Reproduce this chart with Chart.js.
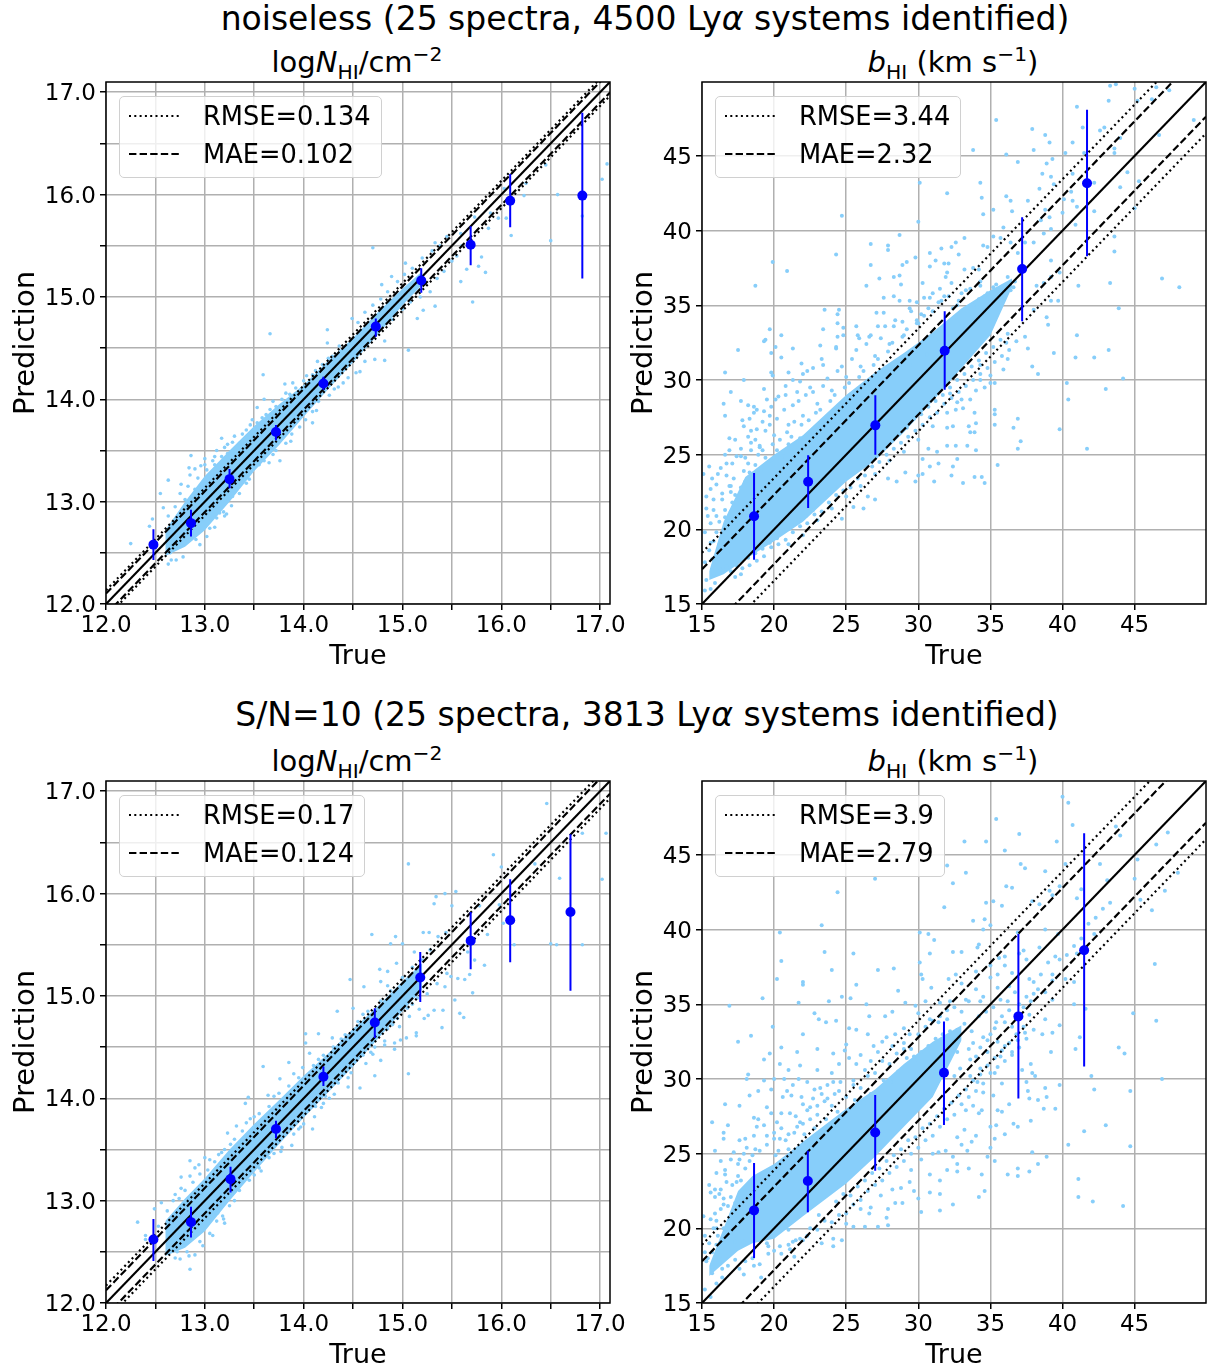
<!DOCTYPE html>
<html>
<head>
<meta charset="utf-8">
<script src="https://cdn.jsdelivr.net/npm/chart.js@4"></script>
<style>
body { margin: 0; background: #fff; font-family: "DejaVu Sans", sans-serif; color: #000; }
#page { position: relative; width: 1208px; height: 1369px; overflow: hidden; }
canvas { position: absolute; }
.title { position: absolute; transform: translate(-50%, -50%); white-space: nowrap; }
.title sub, .title sup { font-size: 70%; line-height: 0; }
.legend { position: absolute; background: rgba(255,255,255,.8); border: 1.5px solid #d0d0d0; border-radius: 5px; padding: 0 10px 0 9px; height: 80px; font-size: 25.7px; }
.legend div { display: flex; align-items: center; height: 38px; }
.legend svg { width: 52px; height: 4px; margin-right: 22px; }
</style>
</head>
<body>
<div id="page"></div>
<script>
// mean points and error bars
var meanTrueA = [12.48, 12.86, 13.25, 13.72, 14.2, 14.73, 15.19, 15.69, 16.09, 16.82];
var meanPredA = [12.58, 12.79, 13.22, 13.68, 14.155, 14.71, 15.16, 15.51, 15.94, 15.99];
var errHighA = [12.73, 12.92, 13.32, 13.75, 14.22, 14.79, 15.28, 15.69, 16.2, 16.8];
var errLowA = [12.43, 12.66, 13.13, 13.6, 14.09, 14.61, 15.04, 15.31, 15.68, 15.18];

var meanTrueB = [18.61, 22.36, 27.02, 31.83, 37.2, 41.7];
var meanPredB = [20.87, 23.19, 26.96, 31.96, 37.43, 43.17];
var errHighB = [23.77, 24.96, 28.97, 34.6, 40.9, 48.1];
var errLowB = [17.97, 21.43, 25, 29.35, 33.93, 38.28];

var meanTrueC = [12.48, 12.86, 13.26, 13.72, 14.2, 14.72, 15.18, 15.69, 16.09, 16.7];
var meanPredC = [12.62, 12.79, 13.21, 13.7, 14.21, 14.74, 15.18, 15.54, 15.74, 15.82];
var errHighC = [12.82, 12.94, 13.33, 13.78, 14.31, 14.88, 15.43, 15.82, 16.14, 16.58];
var errLowC = [12.41, 12.64, 13.08, 13.61, 14.12, 14.59, 14.94, 15.26, 15.33, 15.05];

var meanTrueD = [18.61, 22.34, 27.01, 31.78, 36.94, 41.5];
var meanPredD = [21.2, 23.17, 26.41, 30.42, 34.19, 38.62];
var errHighD = [24.37, 25.2, 28.93, 33.84, 39.7, 46.45];
var errLowD = [18.01, 21.07, 23.86, 26.92, 28.7, 30.83];

// legend values
var rmse = [0.134, 3.44, 0.17, 3.9];
var mae = [0.102, 2.32, 0.124, 2.79];

// dense part of each cloud, read as an envelope
var coreTrueA = [12.6, 12.8, 13, 13.25, 13.5, 13.75, 14, 14.25, 14.5, 14.75, 15, 15.2];
var coreHighA = [12.72, 13, 13.25, 13.5, 13.74, 13.95, 14.14, 14.38, 14.6, 14.85, 15.08, 15.25];
var coreLowA = [12.47, 12.56, 12.72, 13, 13.3, 13.55, 13.83, 14.1, 14.36, 14.63, 14.92, 15.12];
var coreHighC = [12.8, 13.02, 13.22, 13.5, 13.75, 13.98, 14.22, 14.44, 14.68, 14.9, 15.14, 15.32];
var coreLowC = [12.46, 12.54, 12.7, 13, 13.28, 13.55, 13.81, 14.06, 14.31, 14.58, 14.85, 15.06];
var coreTrueB = [15.5, 16.5, 18, 20, 22, 25, 27, 29, 31, 33, 35, 36.5];
var coreHighB = [17.2, 20.5, 23.5, 25, 26.3, 29, 30.5, 31.8, 33.2, 34.8, 36, 36.8];
var coreLowB = [16.6, 17, 18, 19.2, 20.5, 23.2, 24.6, 26.5, 28.6, 30.8, 33, 36.2];
var coreTrueD = [15.5, 17.5, 18.5, 20, 22, 25, 27, 29, 31, 33];
var coreHighD = [17.5, 22.5, 23.5, 24.3, 25.8, 28, 29.3, 31, 32.5, 33.6];
var coreLowD = [16.8, 18.5, 19, 19.3, 20.8, 23, 24.8, 26.8, 28.8, 32.6];

// scattered points
var pointsA = [[12.25,12.59],[12.44,12.76],[12.47,12.83],[12.55,13.08],[12.63,13.21],[12.76,13.17],[12.58,12.94],[12.63,12.39],[12.71,12.43],[12.65,12.5],[12.86,13.45],[12.84,13.33],[12.85,13.26],[13,13.42],[12.96,13.35],[13.17,13.62],[13.3,13.64],[13.23,13.56],[13.1,13.44],[13.59,14.24],[13.6,14],[13.53,13.92],[13.48,13.8],[13.42,13.7],[13.69,13.98],[13.81,14.15],[13.89,14.16],[14.03,14.23],[14.14,14.37],[14.24,14.55],[13.19,12.9],[13.27,12.96],[13.12,12.84],[13.2,12.86],[13.76,13.4],[13.65,13.38],[13.87,13.59],[14.09,13.77],[14.13,13.89],[14.31,14.1],[14.45,14.21],[14.57,14.27],[14.62,14.37],[14.72,14.39],[14.82,14.38],[15.06,14.48],[14.82,14.57],
[15.71,14.95],[15.84,15.24],[15.8,15.39],[15.77,15.3],[15.65,15.27],[15.59,15.15],[15.33,14.91],[15.21,14.87],[15.15,14.79],[14.7,15.48],[14.24,14.68],[13.66,14.64],[15.03,15.33],[14.89,15.2],[14.79,15.12],[14.49,14.79],[15.33,15.53],[15.45,15.59],[15.59,15.62],[15.73,15.78],[15.89,15.82],[15.97,15.77],[16.05,15.77],[16.03,16.06],[16.23,15.99],[16.25,16.11],[16.45,16.29],[16.57,16],[16.5,15.55],[16.82,15.79],[17.02,16.15],[17.07,16.3],[16.1,15.6],[15.87,15.67],
[12.63,12.86],[12.7,12.95],[12.75,13.08],[12.83,13.15],[12.93,13.23],[13.02,13.31],[13.1,13.36],[13.17,13.44],[13.23,13.47],[13.35,13.57],[13.42,13.62],[13.53,13.77],[13.62,13.85],[13.72,13.93],[13.82,14.06],[13.92,14.11],[14.09,14.24],[14.19,14.34],[14.29,14.42],[14.36,14.52],
[12.66,12.43],[12.78,12.46],[12.91,12.63],[13.05,12.74],[13.15,12.89],[13.28,13.05],[13.42,13.18],[13.55,13.36],[13.69,13.46],[13.82,13.57],[13.96,13.73],[14.09,13.88],[14.26,14.04],[14.4,14.16],[14.53,14.26],
[14.55,14.75],[14.62,14.85],[14.7,14.92],[14.78,14.98],[14.85,15.05],[14.95,15.15],[15.02,15.22],[15.1,15.28],[15.2,15.38],[15.3,15.45],[15.38,15.5],[14.9,14.78],[15,14.88],[15.08,14.95],[15.18,15],[15.28,15.05],[15.35,15.18],[15.42,15.25],[15.5,15.35],[15.55,15.4],[15.6,15.5],
[12.9,13.32],[13,13.36],[13.08,13.4],[13.12,13.5],[13.2,13.53],[13.28,13.58],[13.38,13.66],[13.46,13.75],[13.58,13.82],[13.66,13.9],[13.78,14],[13.86,14.05],[14,14.18],[14.12,14.28],[14.25,14.4],[12.7,12.82],[12.8,13.02],[12.9,13.12],[12.95,12.58],[13.02,12.66],[13.1,12.75],[13.22,12.88],[13.35,13.08],[13.45,13.22],[13.6,13.4],[13.72,13.5],[13.88,13.66],[14.02,13.8],[14.15,13.98],[14.35,14.12]];

var pointsC = [[12.32,12.79],[12.49,12.92],[12.4,12.66],[12.4,12.62],[12.53,12.75],[12.85,12.33],[12.84,12.46],[12.9,12.47],[12.75,12.43],[12.7,12.44],[12.63,12.49],[12.56,12.98],[12.7,13.06],[12.76,13.23],[12.76,13.12],[12.85,13.39],[12.94,13.35],[13,13.42],[12.85,13.24],[13.17,13.47],[13.23,13.66],[13.32,13.73],[13.41,13.95],[13.44,14.01],[13.59,14.31],[13.85,14.35],[13.76,14.19],[13.64,14.03],[13.99,14.3],[14.06,14.44],[14.02,14.54],[13.2,12.78],[13.19,12.82],[13.13,12.88],[13.57,13.29],[13.77,13.48],[13.88,13.54],[13.97,13.72],[14.09,13.7],[14.11,13.82],[14.18,13.91],[14.26,14],[14.31,14.04],[14.45,14.11],[14.57,14.1],[14.72,14.22],[15.06,14.24],[14.78,14.37],[14.63,14.34],[14.7,14.43],[14.82,14.56],[14.92,14.48],[14.98,14.57],
[16.46,16.88],[15.06,16.29],[15.92,16.38],[16,16.26],[16.34,16.29],[16.59,16.15],[16.82,16.59],[17.06,16.59],[17.02,16.14],[16.82,15.5],[16.56,15.5],[16.5,15.51],[16.13,15.5],[16.02,15.71],[15.98,15.89],[15.78,15.88],[15.86,15.6],[15.83,15.3],[15.71,15.03],[15.53,14.96],[15.58,14.83],[15.62,14.79],[15.4,14.69],[15.41,14.86],[15.32,14.86],[15.22,14.78],[15.26,14.81],[15.14,14.64],[15.34,15.97],[15.43,16],[15.54,16.02],[15.32,15.9],[15.5,15.88],[14.69,15.6],[14.93,15.58],[14.88,15.51],[15,15.51],[15.21,15.62],[15.27,15.62],[15.36,15.58],[15.44,15.62],[15.12,15.43],[14.94,15.32],[14.77,15.26],[14.47,15.16],[14.61,15.09],[14.85,15.24],[14.78,15.14],[14.34,14.85],[14.5,14.88],[14.15,14.63],[14.29,14.59],[14.02,14.63],[15.43,15.09],[15.49,15.19],[15.63,15.16],[15.56,15.17],[15.68,15.21],[15.73,15.35],[15.66,15.43],[15.17,14.87],[15.07,14.8],[14.97,14.7],[15.04,14.59],[15.14,14.61],[14.92,14.54],[14.82,14.52],
[12.62,12.9],[12.68,13],[12.74,13.02],[12.8,13.1],[12.88,13.18],[12.95,13.26],[13.03,13.3],[13.1,13.38],[13.2,13.5],[13.3,13.6],[13.38,13.68],[13.46,13.8],[13.55,13.85],[13.65,13.92],[13.75,14.05],[13.85,14.12],[13.95,14.2],[14.1,14.32],[14.2,14.42],[14.3,14.5],[14.42,14.62],[14.55,14.75],[14.65,14.85],[14.78,14.95],[14.88,15.05],[15,15.18],[15.1,15.28],[15.2,15.35],[15.28,15.45],
[12.72,12.5],[12.82,12.5],[12.95,12.6],[13.05,12.68],[13.12,12.8],[13.25,12.95],[13.35,13.1],[13.45,13.2],[13.55,13.32],[13.65,13.42],[13.78,13.52],[13.9,13.65],[14,13.75],[14.12,13.92],[14.22,14.02],[14.35,14.15],[14.48,14.25],[14.6,14.42],[14.72,14.5],[14.85,14.68],[14.95,14.78],[15.05,14.88],[15.15,14.98],[15.25,15.02],[15.35,15.12],[15.45,15.22],
[12.9,13.32],[13.05,13.4],[13.14,13.45],[13.26,13.55],[13.42,13.76],[13.5,13.82],[13.7,14.02],[13.9,14.24],[14.15,14.38],[14.38,14.58],[14.6,14.82],[14.85,15.1],[12.98,12.56],[13.08,12.66],[13.18,12.85],[13.3,13],[13.5,13.25],[13.7,13.46],[13.95,13.7],[14.2,13.95],[14.45,14.2],[14.68,14.45],[14.9,14.72],[15.1,14.92]];

var pointsB = [[43.3,49.7],[43.7,49.8],[45,49.5],[43.2,48.7],[46.5,49.6],[47.4,49.4],[45.2,48.7],[46.2,48.8],[49.1,47.4],[46.7,46.4],[41,48.3],[41.4,46.9],[42.6,46.7],[42.9,46.9],[44,46.2],[40.7,45.9],[35.4,47.4],[37.9,46.8],[38.8,46.4],[39.1,45.9],[33.8,45.4],[36.1,45.1],[38,45.4],[40.2,45.2],[41.5,45.2],[43.6,45.5],[43.6,45.2],[36.9,44.6],[38.9,44.5],[39.3,44.8],[38.6,43.8],[39.2,43.6],[40.7,43.8],[44.5,43.9],[45.3,43.3],[44,42.9],[41.8,43],[42.2,43.2],[30.1,43.2],[34.3,43.2],[32,42.5],[34.4,42.2],[36.1,42.3],[36.4,42],[37.6,42],[38.4,42.8],[39.4,43.1],[40.6,42.6],[40.1,42.1],[40.7,42],[35.2,41.4],[36.5,41.3],[38.8,41.4],[40,41.2],[41,41.6],[42.2,41.3],[45,41.5],[24.7,41],[30,40.6],[34.5,41.1],[35.9,40.2],[38.5,40.7],[39.1,40.9],[39.2,40.1],[40.9,40.4],[43.6,39.6],[43.6,38.6],[28.7,39.7],[26.7,39.1],[27.9,39],[27.9,38.7],[24.3,38.4],[26.7,37.7],[19.9,37.9],[20.9,37.3],[18.7,36.3],[30.8,38.5],[31.6,38.8],[32.3,38.9],[32.6,39.2],[32.8,38.4],[33.2,39.5],[34.5,39],[34.8,38.9],[35.2,39.6],[35.7,39.5],[36.4,39.2],[36.9,38.5],[37.4,39.2],[38,39.2],[38.7,39.8],[39.2,38],[39.8,37.2],[41.1,36.3],[43.3,36.5],[46.9,36.8],[48.1,36.2],[43.9,34.8],[41,33],[39.7,35.3],[39.2,35.3],[38.9,34.2],[39,33.7],[38,34.7],[37.4,32.9],[38.2,36.3],[38.7,36.5],[39.2,36.9],[31.2,38],[31.8,37.8],[32.1,37.8],[29.2,37.9],[28.9,37.7],[29.8,38.2],[30.8,37.6],[30.3,36.5],[28.3,36.9],[28.7,37],[28.8,36.4],[27.3,36.8],[26.4,36.3],[32,37.2],[31.9,36.9],[33.2,37.4],[33.8,37.5],[34.2,37.4],[31,35.8],[31.5,36.1],[32.1,35.6],[33,35.8],[33.6,36.1],[34.3,36.3],[34.8,35.8],[35.2,36.2],[35.6,35.8],[35,35.4],[34.2,35.4],[34.1,34.9],[33.4,34.7],[32.8,35.3],[31.6,35.3],[30.8,35.5],[29.9,35.2],[29.4,35.3],[28.7,35.3],[28.3,35.6],[27.6,35.5],[23.5,34.7],[24.5,34.7],[24.4,34.4],[19.7,33.4],[20.5,33],[19.4,32.7],[23.4,33.4],[24.4,33.8],[24.8,33.5],[25.7,33.6],[26.6,32.9],[27.2,33.6],[27.1,34.5],[27.6,34.5],[28.3,33.6],[28.9,33.9],[29.5,34.6],[29.9,34],[30.4,34.3],[24.4,32.9],[25.9,32.8],
[17.5,32],[19.3,32.6],[19.8,31.8],[20.1,32.2],[20.5,31.5],[21.3,32.1],[23.2,32.3],[24.3,32.1],[16.6,30.5],[17.9,30],[17,29.2],[19.8,30.5],[19.9,30.3],[21,30.5],[21.9,31.1],[22.7,30.8],[23.4,31],[22,30.4],[16.5,28.4],[16.6,27.6],[17.7,28.6],[18.2,28.3],[18.6,28.2],[18.6,27.8],[17.8,27.3],[16.9,26.1],[16.9,25.3],[19.2,27.2],[19.7,27.6],[20.1,28.7],[19.5,28.7],[20.8,29],[21.6,29.2],[22.5,29.5],[18.4,26.6],[18.8,26.7],[18.2,26.2],[18.4,25.3],[19,25.5],[17.7,24.9],[17.1,24.4],[16.6,25],[15.5,24.2],[15.1,23.7],[16.1,23.7],[15.7,23.4],[16.7,23.6],[17,22.9],[16.4,22.4],[15.6,22.7],[15.8,22],[15.3,21.4],[15.2,19.8],[15.6,19.1],[15.2,17.8],[15.7,18],[16.1,18.4],[15.8,17],[15.6,16],[15.2,15.9],[17.7,17],[16.7,17.5],[17.1,17.8],[16.4,19.3],[15.6,20.4],[16,20.9],[16.6,21.3],[17.1,21.8],
[26.2,21.4],[27,22],[26.5,22.2],[25.5,21.5],[24.7,20.7],[28.5,23.2],[27.9,23.4],[29.1,23.8],[29.8,23.2],[30,23.6],[31.1,23.2],[32.3,23.6],[33.1,23.1],[33.9,23.5],[34.4,23.5],[34.6,23.1],[35.5,24.3],[34,25.3],[33.4,25.6],[32.7,24.7],[32.4,24.2],[31.4,24.4],[30.8,24.2],[30.3,23.7],[30.3,24.7],[41.7,25.4],[36.9,25.4],[37.1,25.9],[36.6,26.8],[36.9,27.4],[39.8,26.7],[40.4,28.7],[40.3,29.8],[43,29.4],[44.2,30.1],[37.9,30.9],[38.3,30.4],[37.6,32.1],[39.4,31.8],[40.9,31.5],[42.2,31.5],[43.2,32],[35.9,30.7],[36.2,31.4],[35.3,27.7],[35.3,27],[35.3,28],[34,27.1],[33.9,27.8],[33.1,28.1],[33.6,28.7],[32.6,28],[33.5,26.9],[33.6,26.5],[33.9,26.5],[32.6,25.6],[32,25.6],[31.3,25.2],[30.7,25.4],[32.4,26.9],[32,26.8],[35,29.8],[35.3,29.8],[34.3,30],[34.6,29.5],[32.7,28.5],[32.2,29.1],[36.1,32.5],[34.3,31],
[15.8,19.2],[16.2,20.5],[16.6,20.8],[17,21.2],[17.3,22.3],[17.7,22.8],[18,23.2],[18.3,23.8],[18.7,24.3],[19.1,24],[19.4,24.8],[19.8,24.6],[20.2,25.3],[20.6,24.9],[21,25.7],[21.4,25.4],[21.8,26.1],[22.2,25.8],[22.6,26.6],[23,26.3],[23.4,27.2],[23.8,26.9],[24.2,27.9],[24.6,28.2],[25,28.6],[25.4,28.3],[25.8,29.3],[26.2,28.8],[26.6,29.8],[27,30],[27.4,29.7],[27.8,30.6],[28.2,30.3],[28.6,31.1],[29,31.5],[29.4,31],[29.8,31.9],[30.2,32.2],[30.6,31.7],[31,33],[31.4,32.5],[31.8,33.5],[32.2,33],[32.6,34.2],[33,33.6],[33.4,34.6],[33.8,35],[34.2,34.3],[34.6,35.6],[35,35.2],[35.4,36.4],[35.8,35.7],[36.2,36.9],[36.6,36.2],[37,37.5],
[17,17.2],[17.4,17.6],[17.8,18],[18.2,18.1],[18.7,18.4],[19.2,18.7],[19.7,19.1],[20.2,19.4],[20.7,19.9],[21.2,20.3],[21.7,20.6],[22.2,20.9],[22.7,21.3],[23.2,21.9],[23.7,22.3],[24.2,22.8],[24.7,23.2],[25.2,23.6],[25.7,23.9],[26.2,24.4],[26.7,24.9],[27.2,25.1],[27.7,25.6],[28.2,26.1],[28.7,26.5],[29.2,26.8],[29.7,27.4],[30.2,27.7],[30.7,28.2],[31.2,28.6],[31.7,29],[32.2,29.5],[32.7,30],[33.2,30.4],[33.7,30.9],[34.2,31.3],[34.7,31.8],[35.2,32.2],[35.7,32.7],[36.2,33.1],
[17,22.5],[18,24.8],[19,25.6],[20,26.3],[21,27],[22,27.6],[23,28.4],[24,29.3],[25,30.2],[26,30.9],[27,31.6],[28,32.4],[29,33],[30,33.8],[31,34.6],[21,19],[22,19.6],[23,20.6],[24,21.4],[25,22.2],[26,22.9],[27,23.7],[28,24.6],[29,25.2],[30,26],[31,26.9],[32,27.8],[33,28.7],[34,29.3],[35,30.3],
[15.3,16.6],[15.5,18.6],[15.4,20.9],[15.3,22.2],[15.9,16.4],[16,19.8],[15.8,21.3],[16,23],[16.3,17.3],[16.2,19],[16.4,22],[16.3,24.1],[16.8,18.4],[16.9,22.9],[16.7,24.4],[17.3,16.8],[17.2,23.4],[17.4,24.9],[17.3,26],[17.8,17.4],[17.9,23.9],[17.7,25.4],[17.9,26.9],[18.3,17.6],[18.2,24.4],[18.4,25.8],[18.3,27.4],[18.8,17.9],[18.9,25],[18.7,26],[18.8,28],[19.3,18.2],[19.2,25.3],[19.4,26.6],[19.3,27.9],[19.3,29.4],[19.8,18.8],[19.9,25.7],[19.7,27],[19.8,28.2],[20.3,19],[20.4,26],[20.2,27.4],[20.3,28.9],[20.8,19.3],[20.9,26.5],[20.7,28],[20.8,29.6],[21.3,19.8],[21.2,26.2],[21.4,27.2],[21.3,28.3],[21.3,30],[21.8,20.2],[21.9,27],[21.7,28.6],[21.8,29.9],[22.3,20.4],[22.4,27.3],[22.2,29],[22.3,30.6],[22.8,21],[22.9,27.8],[22.7,29.2],[23.3,21.2],[23.2,28],[23.4,29.6],[23.3,31.4],[23.8,21.8],[23.9,28.6],[23.7,30.1],[24.3,22.3],[24.2,29],[24.4,30.6],[24.3,32.2],[24.8,22.6],[24.9,29.5],[24.7,30.9],[24.8,33],[25.3,22.8],[25.2,29.8],[25.4,31.4],[25.8,23.4],[25.9,30.2],[25.7,32],[25.8,33],[26.3,23.6],[26.2,30.6],[26.4,32.4],[26.8,24.2],[26.9,31],[26.7,33],[27.3,24.5],[27.2,31.4],[27.4,32.8],[27.8,25],[27.9,31.9],[27.7,33.6],[28.3,25.4],[28.2,32.5],[28.4,34],[28.8,25.8],[28.9,32.9],[29.3,26.2],[29.2,33.4],[29.4,34.8],[29.8,26.6],[29.9,33.8],[30.3,27],[30.2,34.4],[30.4,35.5],[30.8,27.5],[30.7,34.8],[31.3,27.8],[31.4,35.2],[31.8,28.4],[31.8,35.6],[32.3,28.8],[32.4,34.8],[32.3,36.5],[32.8,29.2],[32.7,35],[33.3,29.6],[33.3,36],[33.8,30],[33.7,34.2],[34.3,30.4],[34.3,36.6],[34.8,30.8],[34.7,34.9],[35.3,31.2],[35.4,35.4],[35.8,31.6],[36.3,32],[36.4,36],[36.8,32.6],[36.7,36.6]];

var pointsD = [[40,48.9],[40.4,48.5],[35.4,47.4],[40.7,47],[43.7,46.9],[44,46.3],[47.3,46.5],[37,46.4],[33.2,45.9],[34.7,45.9],[39.6,45.9],[36,45.3],[46.5,45.7],[45.2,44.7],[40.2,44.4],[37.1,44.4],[37.4,44.1],[38.8,43.9],[42.6,44.4],[32,44.3],[33.3,43.8],[48,43.8],[45,43.4],[43.1,43.3],[27,43.4],[24.4,42.5],[32.4,43.1],[36.1,42.9],[36.5,42.8],[39.1,42.6],[39.8,42.9],[47.1,42.6],[41.3,42.7],[34.7,41.8],[35.2,41.9],[35.8,41.6],[31.8,41.5],[37.9,41.9],[38.4,41.7],[39.3,42.3],[41,42.1],[45.4,42],[46.2,41.3],[33.8,40.6],[34.6,40.7],[35,40.3],[34.5,40],[23.3,40.3],[20.4,39.8],[20.5,37.9],[20.2,36.7],[22,36.5],[22,36.3],[19.2,35.4],[16.9,34.9],[23.5,38.5],[25.5,38.4],[24,37.3],[27.2,37.3],[28.3,37.4],[30.1,39.8],[30.7,39.7],[31.1,39.3],[32.4,38.5],[33,38.5],[30.8,38.4],[30.1,37.8],[30.2,37],[30.3,36.7],[32.1,36.7],[32.6,37],[34.1,38.8],[34.2,39],[35.6,38.1],[36.9,39.8],[37.3,38.6],[38.4,38.8],[38.8,40],[39.7,39.7],[41,38.4],[42.2,39.7],[46.4,37.7],[44.9,34.4],[46.5,33.9],[25.7,36.3],[24.7,35.5],[25.3,35.4],[21.7,35.1],[26.4,35],[23.8,35.2],[22.8,34.4],[23.1,34],[22,33],[19.9,33.5],[18.4,32.9],[23.6,33.8],[24.3,33.9],[25.2,33.4],[25.7,33.3],[26.6,34.2],[26.5,33],[27.7,34.2],[28.2,34.5],[28.6,35.9],[29.1,35.1],[29.8,34.9],[30.5,35.2],[30.9,36.1],[31.5,35.1],[32,34.6],[33.3,35.3],[34.3,35.2],[35.5,36.1],[36.3,36.2],[35.4,33.8],[37.7,36.7],[38,35.7],[39.3,36.6],[40.2,36.7],[40.8,36.5],[41.6,34.7],[39.3,35.3],[38.8,34],[37.7,34.3],[41.2,32.8],[39.3,33.1],[37.4,33.1],
[17.5,32.5],[19.7,31.7],[19.3,31.3],[20.5,32.1],[21.6,31.8],[18.2,30.3],[18.1,30],[18.9,29.2],[16.6,28.3],[17.6,28.2],[15.7,27.1],[16.8,26.9],[16.5,26.4],[16.5,26],[15.9,25.2],[17.6,25.9],[18.6,27.4],[18.8,26.8],[18.6,26.2],[18,26],[19.5,28.1],[19.8,27.7],[19.8,29.3],[20.4,31],[21,30.6],[21.8,30.9],[23,32],[23,30.6],[22.3,29.8],[21.7,30],[20.9,29.2],[21.2,28.9],[20.6,28.8],[20.5,27.7],[21.1,27.7],[20.2,27.1],[20,26.4],[19.5,26.2],[20.4,26],[21,25.3],[21.8,27.1],[22.5,27.3],[23.3,29],[24.1,29.8],[24.9,31.9],[25,32.3],[24.1,31.7],[25.7,31],[26.3,30.6],[26.9,32.2],[27.5,32.5],[28.2,32.2],[29,32],[29.8,31.3],[25.5,29.9],[24.6,29.8],[23.7,29.6],[22.8,29.3],[21.9,28.8],[23.7,28.7],[23,28.2],[22.3,27.9],[24.2,29],[21.6,26.8],[18.7,25.3],[17.9,25],[17.2,25.1],[18.3,24.5],[16.3,24.5],[17.5,24.3],[16.6,23.6],[16,23.7],[15.5,22.9],[15.9,22.6],[15.6,22.4],[16.3,22.6],[16.7,23.1],[17.1,22.9],[17.4,23.1],[17.7,23.2],[16.5,22],[15.9,22.1],[15.1,20.8],[15.6,20.6],[16.3,21.3],[16.8,21.5],[17.3,21.7],[17.7,22],[18.2,22.4],[15.8,20],[16.1,19.5],[15.2,19.5],[16.5,19.1],[16.8,19.5],[17.3,19.1],[17.9,19.1],[15.7,18.4],[15.2,18.4],[16.2,18.1],[17.3,17.9],[15.7,17.4],[15.7,17],[16.4,17.3],[17.6,17.3],[17.9,16.9],[18.6,17.5],[16.4,16.7],[16,16.3],[15.2,15.9],[15.6,15.4],[19.1,16.7],[19.6,18.3],[19.6,18.8],[20.4,18.8],[21.1,18.6],[21.3,19.1],[21.4,18.1],[21.8,19.3],[22.3,19.5],[24.1,19.3],[24.7,19.2],[24.1,18.8],[23.3,19],[25,20.3],[25.5,20.1],[26.3,20.1],[27.2,20.1],[27.9,20.2],[27.8,20.7],[26.6,21],[26,21.3],[26.7,21.4],[28.4,21.7],[28.9,21.7],[27.9,21.3],[27.4,22.2],[28.2,22.6],[28.8,22.7],[29.4,23.1],[29.7,22.5],[30,22],[30.2,21.1],[31.5,21.2],[32.4,21.6],[30.8,22.4],[31.5,22.3],[34.2,22.1],[34.6,22.5],[32.7,23.8],[31.5,23.2],[30.8,23.6],[32,23.9],[32.4,24.8],[33.5,24],[32.7,24.3],[34.4,23.6],[34.8,24.8],[35.3,24.5],[36.2,23.6],[36.9,24],[36.9,23.5],[37.7,23.8],[38.3,24.3],[38.9,24.8],[37.9,25.1],[40.4,25.6],[44.7,25.5],[43,26.9],[41.5,26.5],[41.1,23.3],[41.1,22.1],[42.1,21.8],[44.2,21.5],[44.7,29.2],[46.9,30],[42.2,29.3],[42,30.2],[39.8,29.6],[38.8,29.4],[38.9,28.8],[38.3,28.6],[39.5,28],[38.7,28],[37.8,27.2],[37.7,28.7],[37.6,29.2],[37.5,29.8],[35.8,29.7],[35.8,27.8],[35.5,27.9],[35.2,28.9],[34.5,29.1],[36,26.3],[35.3,26],[35.4,26.9],[35,26.8],[36.6,27],[36.9,26.8],[34.2,27.7],[34.4,27.9],[33.8,28.2],[33.3,27.9],[33.2,26.6],[32.7,26.1],[33.7,25.8],[31.9,25.2],[33.4,25.2],[31.4,25.1],[39.2,31.8],[38.1,30.2],[37.8,31],[37.9,30.4],[35.7,31.5],[35.3,30.4],[40.9,32],[43.9,32.1],[44.3,31.7],[34.1,29.8],[34.8,31.8],[33.6,31.3],[32.9,30.7],[32.5,30.2],[33.6,30.2],[34.3,30.7],[36,32.2],[36.5,31.6],[36.9,32.6],[32.7,31.8],[32.1,32.2],
[16,20.5],[16.5,21.6],[17,22.1],[17.5,23.5],[18,24],[18.5,24.9],[19,25.2],[19.5,25.6],[20,26],[20.5,26.7],[21,26.3],[21.5,27.5],[22,27],[22.5,28.1],[23,27.6],[23.5,28.5],[24,28.2],[24.5,29.2],[25,28.8],[25.5,29.6],[26,29.4],[26.5,30.2],[27,30.4],[27.5,31.2],[28,31],[28.5,31.7],[29,32.4],[29.5,32],[30,33],[30.5,33.5],[31,33.9],[31.5,34.2],[32,34],[32.5,34.8],[33,34.5],[33.5,35.2],[34,36],[34.5,35.5],[35,36.8],[35.5,37],[36,37.6],[36.5,37.1],[37,38.4],[37.5,38],
[18,17.8],[18.5,18],[19,17.6],[19.5,19],[20,18.5],[20.5,18.3],[21,18.9],[21.5,19.2],[22,19.2],[22.5,20],[23,19.9],[23.5,20.5],[24,20.4],[24.5,20.9],[25,21],[25.5,21.6],[26,21.9],[26.5,22.5],[27,22.9],[27.5,23.2],[28,23.7],[28.5,24.1],[29,24.5],[29.5,25],[30,25.4],[30.5,25.9],[31,26.2],[31.5,26.8],[32,27.3],[32.5,27.6],[33,28.3],[33.5,28.8],[34,29.2],[34.5,29.7],[35,30.4],[35.5,30.8],[36,31.2],[36.5,31.8],[37,32.1],[37.5,32.7],[38,33.3],
[33.5,32],[34,31.5],[34.5,32.8],[35,33],[35.5,32.5],[36,33.8],[36.5,33.5],[37,35],[37.5,35.5],[38,36.5],[38.5,37],[39,37.8],[39.5,38.2],[15.5,19],[16,18.9],[16.5,20],[16,20],[15.3,17.8],[16.8,17.5],
[15.4,18],[15.9,21],[16.2,22.3],[16.6,23.9],[17,24.6],[17.6,24.6],[18.1,25.4],[19.3,26.9],[20.1,24.9],[20.3,25.2],[20.8,25.9],[21.4,26.4],[22.1,26.3],[22.8,26.7],[23.6,27.3],[24.4,27.8],[25.6,28.6],[26.2,28.4],[26.7,29],[27.6,29.9],[28.1,29.8],[28.6,30.5],[29.2,31.4],[29.7,31.5],[30.2,31.8],[30.7,32.2],[31.2,32.7],[31.7,33],[32.2,33.2],[32.7,33.3],[33.2,33.7],[33.7,33.2],[34.2,34.2],[34.7,34.5],[35.2,34.8],[35.7,35.3],[36.2,35.2],[36.7,35.8],
[21,19.9],[23.1,20.9],[24.3,21.8],[24.8,22.3],[25.3,22.2],[25.8,22.8],[26.3,23.2],[26.8,23.7],[27.3,24],[27.8,24.5],[28.3,24.9],[28.8,25.3],[29.3,25.9],[29.8,26.1],[30.3,26.7],[30.8,27],[31.3,27.5],[31.8,28],[32.3,28.4],[32.8,28.9],[33.3,29.3],[33.8,29.9],[34.3,30.3],[34.8,30.9],[35.3,31.4],[35.8,31.9],[36.3,32.4],[36.8,33],[37.3,33.5],[29.5,23.9],[30.2,24.6],[31,25],[33,25.6],[34,26.2],[35,25.4],[36.3,28.3],[37.2,30.6],[38.6,33],[39.8,33.6],[40.8,35],
[33.8,32.4],[34.3,32.1],[34.8,32.6],[35.3,33.4],[35.8,34.2],[36.3,34.6],[36.8,34],[37.3,34.8],[37.8,35.2],[38.3,36],[38.8,35.8],[39.3,37],[39.8,38],[40.3,38.3],[40.8,38.9],[41.3,39.4],[41.8,40.4],[42.3,40.8],[42.8,41.4],[43.3,41.8],
[18.3,28.9],[18.9,27.3],[19.3,29.9],[20,30],[20.7,30],[21.3,29.6],[22,28.3],[22.7,28.7],[23.2,29.4],[24,30.4],[24.5,31],[25.2,31.4],[26,31.6],[26.7,31.2],[27.2,31.8],[27.8,32.8],[28.4,33],[29,33.4],[29.4,33],[30,34.4],[30.8,34],[31.4,33.8],[32.2,35.2],[33,36.4],[34,37.2],[35,37.6],[36,38.2]];

var panels = [
  { title: ['log', 'N', 'HI', '/cm', '\u22122', ''], left: 0, top: 42, plotLeft: 106, plotRight: 610, plotTop: 82, plotBottom: 604, lim: [12, 17.1], step: 0.5, isN: true, width: 640, titlePad: 9, dot: 1.8,
    pts: pointsA, meanT: meanTrueA, meanP: meanPredA, hi: errHighA, lo: errLowA, coreT: coreTrueA, coreH: coreHighA, coreL: coreLowA, idx: 0 },
  { title: ['', 'b', 'HI', ' (km s', '\u22121', ')'], left: 622, top: 42, plotLeft: 702, plotRight: 1206, plotTop: 82, plotBottom: 604, lim: [15, 49.95], step: 5, isN: false, width: 610, titlePad: 5, dot: 2,
    pts: pointsB, meanT: meanTrueB, meanP: meanPredB, hi: errHighB, lo: errLowB, coreT: coreTrueB, coreH: coreHighB, coreL: coreLowB, idx: 1 },
  { title: ['log', 'N', 'HI', '/cm', '\u22122', ''], left: 0, top: 741, plotLeft: 106, plotRight: 610, plotTop: 781, plotBottom: 1303, lim: [12, 17.1], step: 0.5, isN: true, width: 640, titlePad: 9, dot: 1.8,
    pts: pointsC, meanT: meanTrueC, meanP: meanPredC, hi: errHighC, lo: errLowC, coreT: coreTrueA, coreH: coreHighC, coreL: coreLowC, idx: 2 },
  { title: ['', 'b', 'HI', ' (km s', '\u22121', ')'], left: 622, top: 741, plotLeft: 702, plotRight: 1206, plotTop: 781, plotBottom: 1303, lim: [15, 49.95], step: 5, isN: false, width: 610, titlePad: 5, dot: 2,
    pts: pointsD, meanT: meanTrueD, meanP: meanPredD, hi: errHighD, lo: errLowD, coreT: coreTrueD, coreH: coreHighD, coreL: coreLowD, idx: 3 }
];

var page = document.getElementById('page');

function addTitle(html, cx, cy, size) {
  var d = document.createElement('div');
  d.className = 'title';
  d.style.left = cx + 'px';
  d.style.top = cy + 'px';
  d.style.fontSize = size + 'px';
  d.innerHTML = html;
  page.appendChild(d);
}

addTitle('noiseless (25 spectra, 4500 Ly<i>\u03b1</i> systems identified)', 645, 18, 33);
addTitle('S/N=10 (25 spectra, 3813 Ly<i>\u03b1</i> systems identified)', 647, 714, 33);

var frame = {
  id: 'frame',
  afterDatasetsDraw: function (chart) {
    var a = chart.chartArea, c = chart.ctx;
    c.save();
    c.strokeStyle = '#000';
    c.lineWidth = 1.5;
    c.strokeRect(a.left, a.top, a.width, a.height);
    c.restore();
  }
};

function line(off, lim, dash) {
  return { data: [{ x: lim[0], y: lim[0] + off }, { x: lim[1], y: lim[1] + off }], borderColor: '#000', borderWidth: 2.2, borderDash: dash, pointRadius: 0, order: 3 };
}

panels.forEach(function (p) {
  var t = p.title;
  addTitle(t[0] + '<i>' + t[1] + '</i><sub>' + t[2] + '</sub>' + t[3] + '<sup>' + t[4] + '</sup>' + t[5], (p.plotLeft + p.plotRight) / 2 - 1, p.plotTop - 20, 29);

  var cv = document.createElement('canvas');
  cv.width = p.width;
  cv.height = 640;
  cv.style.left = p.left + 'px';
  cv.style.top = p.top + 'px';
  page.appendChild(cv);

  var upper = p.coreT.map(function (x, i) { return { x: x, y: p.coreH[i] }; });
  var lower = p.coreT.map(function (x, i) { return { x: x, y: p.coreL[i] }; });
  var dots = p.pts.map(function (q) { return { x: q[0], y: q[1] }; });
  var means = p.meanT.map(function (x, i) { return { x: x, y: p.meanP[i] }; });
  var bars = [];
  p.meanT.forEach(function (x, i) {
    bars.push({ x: x, y: p.lo[i] }, { x: x, y: p.hi[i] }, { x: x, y: null });
  });

  var datasets = [
    { data: upper, fill: '+1', backgroundColor: '#87cefa', borderWidth: 0, pointRadius: 0, order: 6 },
    { data: lower, borderWidth: 0, pointRadius: 0, order: 6 },
    { data: dots, showLine: false, pointRadius: p.dot, pointBorderWidth: 0, pointBackgroundColor: '#87cefa', order: 5 },
    line(0, p.lim, []),
    line(mae[p.idx], p.lim, [7.4, 3.2]),
    line(-mae[p.idx], p.lim, [7.4, 3.2]),
    line(rmse[p.idx], p.lim, [2, 3.3]),
    line(-rmse[p.idx], p.lim, [2, 3.3]),
    { data: bars, borderColor: '#0000ff', borderWidth: 2, pointRadius: 0, spanGaps: false, order: 2 },
    { data: means, showLine: false, pointRadius: 5, pointBorderWidth: 0, pointBackgroundColor: '#0000ff', order: 1 }
  ];

  function tickLabel(v) {
    if (p.isN) return Number.isInteger(v) ? v.toFixed(1) : '';
    return String(v);
  }

  function axis(name, fitBox) {
    var isX = name === 'True';
    return {
      type: 'linear',
      min: p.lim[0],
      max: p.lim[1],
      afterFit: fitBox,
      border: { display: false },
      grid: { color: '#b0b0b0', lineWidth: 1.5, tickColor: '#000', tickWidth: 1.5, tickLength: 6 },
      title: { display: true, text: name, color: '#000', font: { family: 'DejaVu Sans', size: isX ? 27 : 29 }, padding: isX ? { top: 0, bottom: 9 } : { top: p.titlePad, bottom: 0 } },
      ticks: { stepSize: p.step, includeBounds: false, autoSkip: false, maxRotation: 0, color: '#000', font: { family: 'DejaVu Sans', size: 23 }, padding: isX ? 2 : 4, labelOffset: isX ? 0 : 2, callback: tickLabel }
    };
  }

  new Chart(cv, {
    type: 'line',
    data: { datasets: datasets },
    options: {
      responsive: false,
      animation: false,
      devicePixelRatio: 1,
      layout: { padding: { left: 0, top: p.plotTop - p.top, right: p.left + p.width - p.plotRight, bottom: 0 } },
      plugins: { legend: { display: false }, tooltip: { enabled: false } },
      scales: {
        x: axis('True', function (s) { s.height = p.top + 640 - p.plotBottom; }),
        y: axis('Prediction', function (s) { s.width = p.plotLeft - p.left; })
      }
    },
    plugins: [frame]
  });

  var lg = document.createElement('div');
  lg.className = 'legend';
  lg.style.left = (p.plotLeft + 13) + 'px';
  lg.style.top = (p.plotTop + 14) + 'px';
  lg.innerHTML =
    '<div><svg><line x1="0" y1="2" x2="52" y2="2" stroke="#000" stroke-width="2" stroke-dasharray="2 3.3"/></svg>RMSE=' + rmse[p.idx] + '</div>' +
    '<div><svg><line x1="0" y1="2" x2="52" y2="2" stroke="#000" stroke-width="2" stroke-dasharray="7.4 3.2"/></svg>MAE=' + mae[p.idx] + '</div>';
  page.appendChild(lg);
});
</script>
</body>
</html>
